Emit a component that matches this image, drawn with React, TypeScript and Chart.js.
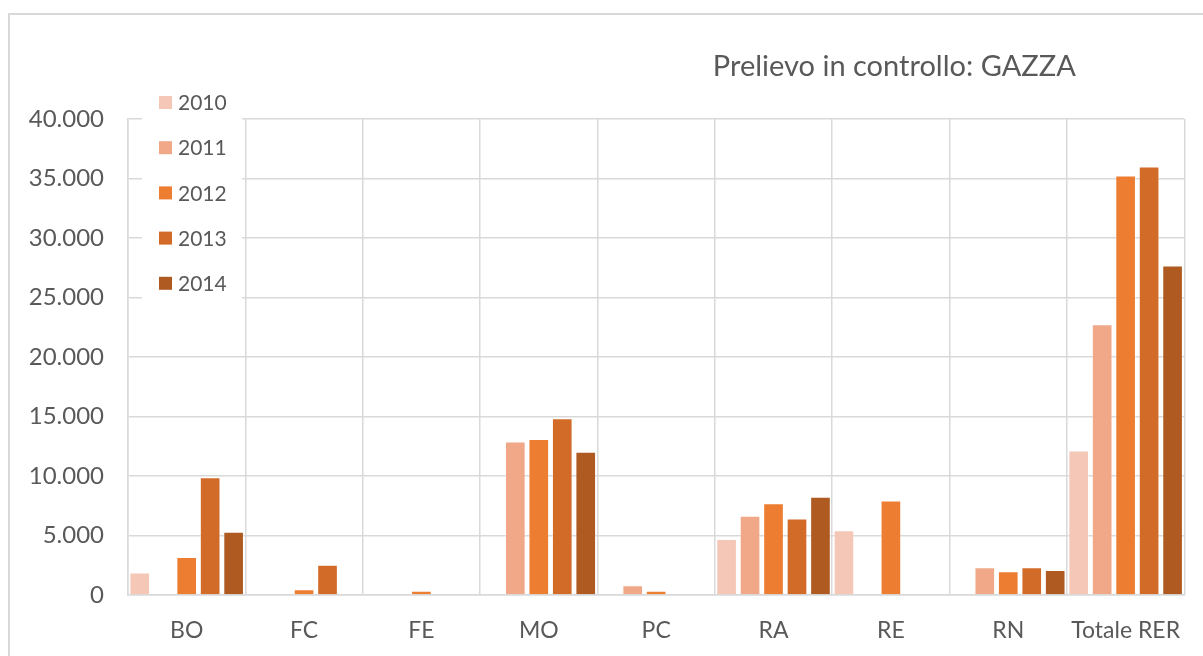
import React, { useEffect, useRef } from "react";
import { Chart, registerables } from "chart.js";

Chart.register(...registerables);

const categories = ["BO", "FC", "FE", "MO", "PC", "RA", "RE", "RN", "Totale RER"];
const years = ["2010", "2011", "2012", "2013", "2014"];
const v2010 = [1900, null, null, null, null, 4700, 5450, null, 12150];
const v2011 = [null, null, null, 12900, 820, 6650, null, 2330, 22750];
const v2012 = [3200, 480, 360, 13100, 360, 7720, 7940, 1990, 35250];
const v2013 = [9900, 2550, null, 14850, null, 6420, null, 2330, 36000];
const v2014 = [5320, null, null, 12040, null, 8250, null, 2100, 27680];
const seriesValues = [v2010, v2011, v2012, v2013, v2014];
const colors = ["#F4C7B6", "#F0A888", "#ED7D31", "#D26B27", "#AE5A21"];
const titleText = "Prelievo in controllo: GAZZA";
const yMin = 0;
const yMax = 40000;
const yStep = 5000;

const FONT = "Lato, 'Open Sans', sans-serif";
const TEXT = "#595959";
const GRID = "#d9d9d9";

function fmt(v: number): string {
  const s = Math.round(v).toString();
  return s.replace(/\B(?=(\d{3})+(?!\d))/g, ".");
}

const decorPlugin = {
  id: "decor",
  beforeDatasetsDraw(chart: any) {
    const { ctx, chartArea } = chart;
    ctx.save();
    // legend box (white background over gridlines)
    const bx = chartArea.left + 14;
    const by = chartArea.top - 31;
    ctx.fillStyle = "#ffffff";
    ctx.fillRect(bx, by, 100, 215);
    ctx.font = `21px ${FONT}`;
    ctx.textBaseline = "middle";
    ctx.textAlign = "left";
    chart.data.datasets.forEach((ds: any, i: number) => {
      const cy = chartArea.top - 16.5 + i * 45.2;
      ctx.fillStyle = ds.backgroundColor;
      ctx.fillRect(bx + 17, cy - 6.5, 13, 13);
      ctx.fillStyle = TEXT;
      ctx.fillText(ds.label, bx + 36, cy + 1);
    });
    ctx.restore();
  },
  afterDraw(chart: any) {
    const { ctx, chartArea } = chart;
    ctx.save();
    ctx.font = `29px ${FONT}`;
    ctx.fillStyle = TEXT;
    ctx.textAlign = "center";
    ctx.textBaseline = "middle";
    ctx.fillText(titleText, chartArea.right - 290, chartArea.top - 52);
    ctx.restore();
  },
};

export default function App() {
  const ref = useRef<HTMLCanvasElement | null>(null);

  useEffect(() => {
    if (!ref.current) return;
    const chart = new Chart(ref.current, {
      type: "bar",
      data: {
        labels: categories,
        datasets: years.map((y, i) => ({
          label: y,
          data: seriesValues[i],
          backgroundColor: colors[i],
          borderColor: "rgba(255,255,255,0.35)",
          borderWidth: 1,
          categoryPercentage: 1.0,
          barPercentage: 0.88,
        })),
      },
      options: {
        responsive: false,
        animation: false,
        layout: { padding: { left: 0, top: 119, right: 17, bottom: 0 } },
        plugins: {
          legend: { display: false },
          title: { display: false },
          tooltip: { enabled: false },
        },
        scales: {
          x: {
            grid: { color: GRID, lineWidth: 1.5, drawTicks: false, offset: true },
            border: { color: GRID, width: 1.5 },
            ticks: { color: TEXT, font: { family: FONT, size: 23 }, padding: 22, maxRotation: 0, autoSkip: false },
            afterFit: (scale: any) => {
              scale.height = 61;
            },
          },
          y: {
            min: yMin,
            max: yMax,
            grid: { color: GRID, lineWidth: 1.5, drawTicks: false },
            border: { color: GRID, width: 1.5 },
            ticks: {
              stepSize: yStep,
              color: TEXT,
              font: { family: FONT, size: 24 },
              padding: 24,
              callback: (v: any) => fmt(Number(v)),
            },
            afterFit: (scale: any) => {
              scale.width = 128;
            },
          },
        },
      },
      plugins: [decorPlugin],
    });
    return () => chart.destroy();
  }, []);

  return (
    <div
      style={{
        position: "fixed",
        left: 0,
        top: 0,
        width: 1203,
        height: 656,
        overflow: "hidden",
        background: "#ffffff",
      }}
    >
      <div
        style={{
          position: "absolute",
          left: 8,
          top: 13,
          width: 1400,
          height: 900,
          border: `2px solid ${GRID}`,
        }}
      />
      <canvas
        ref={ref}
        width={1203}
        height={656}
        style={{ position: "absolute", left: 0, top: 0 }}
      />
    </div>
  );
}
